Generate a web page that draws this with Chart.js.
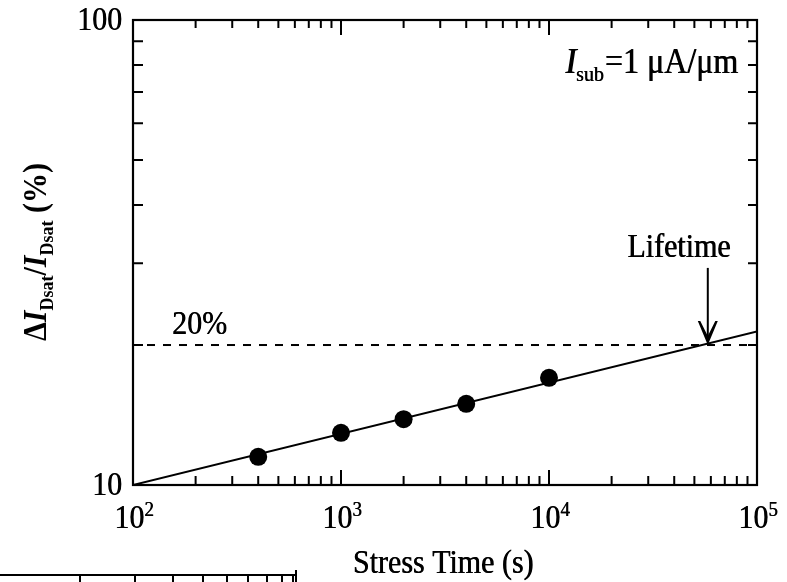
<!DOCTYPE html>
<html><head><meta charset="utf-8">
<script src="https://cdn.jsdelivr.net/npm/chart.js@4"></script>
<style>html,body{margin:0;padding:0;background:#fff}#wrap{width:787px;height:582px}
.pre{position:absolute;left:-9999px;top:0;font-family:"Liberation Serif"}</style>
</head><body>
<span class="pre">a</span><span class="pre" style="font-style:italic">a</span><span class="pre" style="font-weight:bold">a</span><span class="pre" style="font-weight:bold;font-style:italic">a</span>
<div id="wrap"><canvas id="c" width="787" height="582"></canvas></div>
<script>
// ---- data ----
const stressTime = [400, 1000, 2000, 4000, 10000];
const degradation = [11.5, 12.95, 13.85, 14.95, 17.0];
const fitTime = [100, 100000];
const fitDegradation = [10, 21.4];
const criterionTime = [100, 100000];
const criterionLevel = [20, 20];
const lifetimeTime = 58000;
const arrowStartLevel = 29.3;
const xMajorTicks = [100, 1000, 10000, 100000];
const xMinorTicks = [200,300,400,500,600,700,800,900,2000,3000,4000,5000,6000,7000,8000,9000,20000,30000,40000,50000,60000,70000,80000,90000];
const yMajorTicks = [10, 100];
const yMinorTicks = [20,30,40,50,60,70,80,90];
const xTickBase = ['10','10','10','10'];
const xTickExp = ['2','3','4','5'];
const yTickLabels = ['10','100'];
const xTitle = 'Stress Time (s)';
const noteLabel = '=1 \u03bcA/\u03bcm';
const criterionLabel = '20%';
const lifetimeLabel = 'Lifetime';

const SERIF = '"Liberation Serif","Times New Roman",serif';
const STRETCH = 1.1;

function txt(ctx, s, x, y, font, align, heavy) {
  const h = heavy === undefined ? 0.6 : heavy;
  ctx.save();
  ctx.font = font;
  ctx.textAlign = align || 'left';
  ctx.textBaseline = 'alphabetic';
  ctx.translate(x, y);
  ctx.scale(1, STRETCH);
  ctx.fillText(s, 0, 0);
  if (h > 0) ctx.fillText(s, h, 0);
  ctx.restore();
}
function w(ctx, s, font) { ctx.save(); ctx.font = font; const m = ctx.measureText(s).width; ctx.restore(); return m; }

const decor = {
  id: 'decor',
  afterDraw(chart) {
    const ctx = chart.ctx;
    const a = chart.chartArea;
    const xs = chart.scales.x, ys = chart.scales.y;
    ctx.save();
    ctx.fillStyle = '#000';
    ctx.strokeStyle = '#000';
    ctx.lineWidth = 2.2;
    ctx.lineCap = 'butt';
    // frame
    ctx.strokeRect(a.left, a.top, a.right - a.left, a.bottom - a.top);
    // ticks
    ctx.lineWidth = 2;
    ctx.beginPath();
    xMajorTicks.forEach(v => { const px = xs.getPixelForValue(v);
      ctx.moveTo(px, a.bottom); ctx.lineTo(px, a.bottom - 15);
      ctx.moveTo(px, a.top); ctx.lineTo(px, a.top + 15); });
    xMinorTicks.forEach(v => { const px = xs.getPixelForValue(v);
      ctx.moveTo(px, a.bottom); ctx.lineTo(px, a.bottom - 9);
      ctx.moveTo(px, a.top); ctx.lineTo(px, a.top + 8); });
    yMinorTicks.forEach(v => { const py = ys.getPixelForValue(v);
      ctx.moveTo(a.left, py); ctx.lineTo(a.left + 10, py);
      ctx.moveTo(a.right, py); ctx.lineTo(a.right - 9, py); });
    yMajorTicks.forEach(v => { const py = ys.getPixelForValue(v);
      ctx.moveTo(a.left, py); ctx.lineTo(a.left + 15, py);
      ctx.moveTo(a.right, py); ctx.lineTo(a.right - 15, py); });
    ctx.stroke();

    const F = '30px ' + SERIF;
    const FS = '19px ' + SERIF;
    // y tick labels
    yMajorTicks.forEach((v, i) => {
      const py = ys.getPixelForValue(v);
      txt(ctx, yTickLabels[i], a.left - 11, py + 10, F, 'right');
    });
    // x tick labels with superscripts
    xMajorTicks.forEach((v, i) => {
      const px = xs.getPixelForValue(v);
      const wb = w(ctx, xTickBase[i], F), we = w(ctx, xTickExp[i], FS);
      const x0 = px - (wb + we) / 2 + 1;
      txt(ctx, xTickBase[i], x0, a.bottom + 43, F, 'left');
      txt(ctx, xTickExp[i], x0 + wb, a.bottom + 31, FS, 'left', 0.4);
    });
    // x title
    txt(ctx, xTitle, (a.left + a.right) / 2 - 2, a.bottom + 88, F, 'center');

    // y title (rotated)
    const FB = 'bold 30px ' + SERIF, FBI = 'italic bold 30px ' + SERIF, FBS = 'bold 18px ' + SERIF;
    const segs = [
      ['\u0394', FB, 0], ['I', FBI, 0], ['Dsat', FBS, 7], ['/', FB, 0],
      ['I', FBI, 0], ['Dsat', FBS, 7], [' (%)', FB, 0]
    ];
    let total = 0; segs.forEach(s => total += w(ctx, s[0], s[1]));
    ctx.save();
    ctx.translate(46, 252);
    ctx.rotate(-Math.PI / 2);
    let cx = -total / 2;
    segs.forEach(s => { txt(ctx, s[0], cx, s[2], s[1], 'left', 0); cx += w(ctx, s[0], s[1]); });
    ctx.restore();

    // note: I_sub = 1 uA/um  (right anchored)
    const FN = '32px ' + SERIF, FNI = 'italic 32px ' + SERIF, FNS = '20px ' + SERIF;
    const right = a.right - 19;
    const wn = w(ctx, noteLabel, FN), ws = w(ctx, 'sub', FNS), wi = w(ctx, 'I', FNI);
    txt(ctx, noteLabel, right - wn, 73, FN, 'left');
    txt(ctx, 'sub', right - wn - ws - 1, 81, FNS, 'left', 0.4);
    txt(ctx, 'I', right - wn - ws - wi - 1, 73, FNI, 'left', 1);

    // 20% label
    const py20 = ys.getPixelForValue(criterionLevel[0]);
    txt(ctx, criterionLabel, a.left + 39, py20 - 11, F, 'left');

    // lifetime arrow
    const ax = xs.getPixelForValue(lifetimeTime);
    const ay0 = ys.getPixelForValue(arrowStartLevel);
    const ay1 = ys.getPixelForValue(criterionLevel[0]);
    ctx.lineWidth = 2;
    ctx.beginPath();
    ctx.moveTo(ax, ay0); ctx.lineTo(ax, ay1 - 8);
    ctx.stroke();
    ctx.beginPath();
    ctx.moveTo(ax, ay1);
    ctx.lineTo(ax - 10, ay1 - 24);
    ctx.lineTo(ax - 7.5, ay1 - 24);
    ctx.lineTo(ax, ay1 - 9);
    ctx.lineTo(ax + 7.5, ay1 - 24);
    ctx.lineTo(ax + 10, ay1 - 24);
    ctx.closePath();
    ctx.fill();
    txt(ctx, lifetimeLabel, ax - 29, ay0 - 11, F, 'center');

    // fragment of the next figure at bottom-left
    ctx.lineWidth = 2;
    ctx.beginPath();
    ctx.moveTo(0, 575); ctx.lineTo(296, 575);
    ctx.moveTo(296, 570); ctx.lineTo(296, 582);
    [80,135,173,203,227,248,267,282,293].forEach(x => { ctx.moveTo(x, 575); ctx.lineTo(x, 582); });
    ctx.stroke();
    ctx.restore();
  }
};

function build() {
  new Chart(document.getElementById('c'), {
    type: 'scatter',
    data: {
      datasets: [
        { label: 'criterion', data: criterionTime.map((t, i) => ({x: t, y: criterionLevel[i]})),
          showLine: true, borderColor: '#000', borderWidth: 2, borderDash: [8, 8], borderDashOffset: 2, pointRadius: 0, fill: false },
        { label: 'fit', data: fitTime.map((t, i) => ({x: t, y: fitDegradation[i]})),
          showLine: true, borderColor: '#000', borderWidth: 2, pointRadius: 0, fill: false },
        { label: 'measured', data: stressTime.map((t, i) => ({x: t, y: degradation[i]})),
          showLine: false, pointRadius: 9, pointBackgroundColor: '#000', pointBorderColor: '#000', pointBorderWidth: 0 }
      ]
    },
    options: {
      responsive: false, animation: false,
      layout: { padding: { left: 133, top: 20, right: 30, bottom: 97 } },
      plugins: { legend: { display: false }, tooltip: { enabled: false } },
      scales: {
        x: { type: 'logarithmic', min: 100, max: 100000, display: false },
        y: { type: 'logarithmic', min: 10, max: 100, display: false }
      }
    },
    plugins: [decor]
  });
}
const loads = ['30px "Liberation Serif"', 'italic 30px "Liberation Serif"', 'bold 30px "Liberation Serif"', 'italic bold 30px "Liberation Serif"']
  .map(f => document.fonts.load(f, 'Aa10\u0394\u03bc'));
Promise.all(loads).then(build, build);
</script></body></html>
